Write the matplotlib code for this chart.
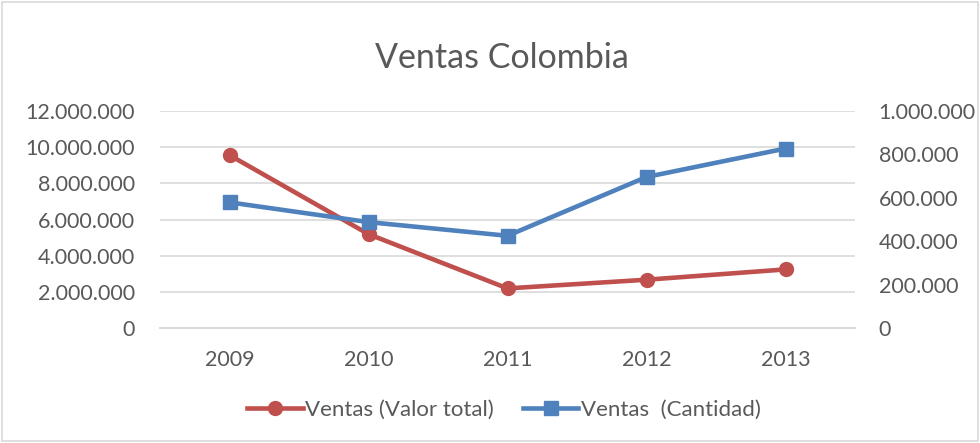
import matplotlib.pyplot as plt
from matplotlib.ticker import FuncFormatter, MultipleLocator

# Data
years = ['2009', '2010', '2011', '2012', '2013']
valor_total = [9560000, 5190000, 2190000, 2670000, 3240000]
cantidad = [579000, 488000, 425000, 696000, 827000]

red = '#C0504D'
blue = '#4F81BD'
grey_text = '#595959'
grid_col = '#D9D9D9'

plt.rcParams['font.family'] = ['Lato', 'DejaVu Sans']


def dots(v, pos):
    return f'{int(round(v)):,}'.replace(',', '.')


fig = plt.figure(figsize=(9.8, 4.43), dpi=100)
ax = fig.add_axes([160 / 980, 1 - 328 / 443, 695 / 980, 217 / 443])
ax2 = ax.twinx()

x = list(range(len(years)))
l1, = ax.plot(x, valor_total, color=red, lw=3.3, marker='o', ms=10,
              label='Ventas (Valor total)', zorder=3)
l2, = ax2.plot(x, cantidad, color=blue, lw=3.3, marker='s', ms=10,
               label='Ventas  (Cantidad)', zorder=3)

ax.set_xlim(-0.5, len(years) - 0.5)
ax.set_ylim(0, 12000000)
ax2.set_ylim(0, 1000000)
ax.yaxis.set_major_locator(MultipleLocator(2000000))
ax2.yaxis.set_major_locator(MultipleLocator(200000))
ax.yaxis.set_major_formatter(FuncFormatter(dots))
ax2.yaxis.set_major_formatter(FuncFormatter(dots))
ax.set_xticks(x)
ax.set_xticklabels(years)

ax.grid(axis='y', color=grid_col, lw=1.2)
ax.set_axisbelow(True)
for a in (ax, ax2):
    for s in ('top', 'left', 'right'):
        a.spines[s].set_visible(False)
    a.spines['bottom'].set_color(grid_col)
    a.spines['bottom'].set_linewidth(1.2)
    a.tick_params(length=0, labelsize=15.5, labelcolor=grey_text)
ax.tick_params(axis='y', pad=18)
ax.tick_params(axis='x', pad=16)
ax2.tick_params(axis='y', pad=17)

fig.text(502 / 980, 1 - 58 / 443, 'Ventas Colombia', ha='center', va='center',
         fontsize=24.5, color=grey_text)

fig.legend(handles=[l1, l2], loc='center', bbox_to_anchor=(504 / 980, 1 - 410 / 443),
           ncol=2, frameon=False, fontsize=16, labelcolor=grey_text,
           handlelength=2.5, handletextpad=0.1, columnspacing=1.3)

border = plt.Rectangle((0.002, 0.004), 0.996, 0.992, transform=fig.transFigure,
                       fill=False, edgecolor=grid_col, lw=1.2)
fig.patches.append(border)

fig.savefig('out.png', dpi=100)
